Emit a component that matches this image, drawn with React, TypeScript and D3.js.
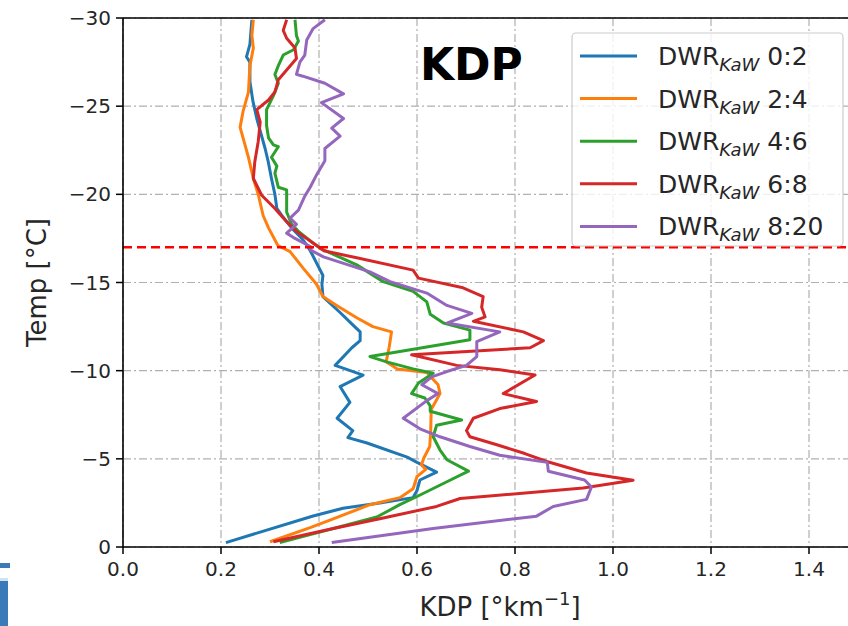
import React from "react";
import * as d3 from "d3";

// Each series: [Temp (°C), KDP (°/km)]
const s02: [number, number][] = [
  [-29.9, 0.263], [-28.5, 0.259], [-27.8, 0.252], [-27.5, 0.259], [-26.4, 0.259],
  [-25.3, 0.265], [-24.3, 0.273], [-23.6, 0.28], [-22.6, 0.29], [-21.9, 0.296],
  [-20.9, 0.303], [-20.0, 0.31], [-19.2, 0.314], [-18.7, 0.327], [-18.1, 0.344],
  [-17.5, 0.365], [-17.0, 0.378], [-16.6, 0.386], [-15.4, 0.408], [-14.9, 0.406],
  [-14.2, 0.408], [-13.3, 0.443], [-12.6, 0.469], [-12.2, 0.484], [-11.7, 0.484],
  [-11.3, 0.467], [-10.3, 0.433], [-9.75, 0.49], [-9.1, 0.443], [-8.2, 0.463],
  [-7.3, 0.437], [-6.6, 0.469], [-6.2, 0.459], [-5.9, 0.498], [-5.1, 0.58],
  [-4.8, 0.6], [-4.25, 0.64], [-3.8, 0.606], [-3.2, 0.6], [-2.8, 0.592],
  [-2.5, 0.524], [-2.2, 0.449], [-1.76, 0.388], [-0.25, 0.21],
];

const s24: [number, number][] = [
  [-29.9, 0.266], [-29.0, 0.263], [-28.3, 0.266], [-27.3, 0.259], [-25.8, 0.256],
  [-24.7, 0.245], [-23.8, 0.239], [-23.2, 0.245], [-22.1, 0.256], [-20.9, 0.266],
  [-20.0, 0.276], [-18.8, 0.286], [-18.1, 0.297], [-17.1, 0.316], [-16.75, 0.341],
  [-15.8, 0.368], [-14.9, 0.395], [-14.2, 0.408], [-13.7, 0.436], [-13.0, 0.477],
  [-12.5, 0.51], [-12.2, 0.548], [-11.3, 0.543], [-10.5, 0.537], [-10.1, 0.56],
  [-9.9, 0.62], [-9.2, 0.643], [-8.7, 0.647], [-7.8, 0.629], [-6.6, 0.628],
  [-5.7, 0.626], [-5.05, 0.614], [-4.65, 0.609], [-4.4, 0.618], [-4.0, 0.6],
  [-3.3, 0.592], [-2.8, 0.565], [-2.4, 0.504], [-1.6, 0.429], [-1.1, 0.382],
  [-0.3, 0.3],
];

const s46: [number, number][] = [
  [-29.9, 0.351], [-29.0, 0.354], [-28.7, 0.358], [-28.2, 0.348], [-27.9, 0.327],
  [-27.3, 0.317], [-26.8, 0.31], [-26.3, 0.317], [-25.6, 0.307], [-24.8, 0.293],
  [-23.9, 0.293], [-23.2, 0.297], [-22.8, 0.307], [-22.7, 0.317], [-22.1, 0.303],
  [-21.6, 0.314], [-21.2, 0.31], [-20.4, 0.317], [-20.25, 0.334], [-19.0, 0.334],
  [-18.3, 0.344], [-17.9, 0.358], [-17.3, 0.385], [-16.9, 0.405], [-16.0, 0.477],
  [-15.05, 0.531], [-14.5, 0.592], [-13.9, 0.62], [-13.2, 0.627], [-12.7, 0.654],
  [-12.3, 0.708], [-11.75, 0.708], [-10.8, 0.504], [-10.5, 0.538], [-10.1, 0.592],
  [-9.85, 0.633], [-9.3, 0.603], [-8.7, 0.589], [-8.45, 0.616], [-8.0, 0.627],
  [-7.7, 0.627], [-7.2, 0.691], [-6.9, 0.64], [-6.25, 0.633], [-5.5, 0.647],
  [-4.95, 0.661], [-4.3, 0.705], [-3.7, 0.661], [-2.85, 0.599], [-2.4, 0.565],
  [-1.7, 0.518], [-1.15, 0.443], [-0.7, 0.382], [-0.25, 0.32],
];

const s68: [number, number][] = [
  [-29.9, 0.334], [-29.3, 0.327], [-28.85, 0.334], [-28.3, 0.351], [-27.7, 0.354],
  [-27.05, 0.334], [-26.5, 0.317], [-25.8, 0.31], [-25.35, 0.297], [-24.8, 0.273],
  [-24.1, 0.28], [-23.0, 0.276], [-21.85, 0.269], [-20.9, 0.266], [-19.95, 0.283],
  [-19.2, 0.31], [-18.45, 0.334], [-17.9, 0.354], [-17.3, 0.385], [-16.8, 0.41],
  [-16.4, 0.477], [-15.7, 0.592], [-15.25, 0.603], [-14.7, 0.694], [-14.2, 0.735],
  [-13.6, 0.732], [-13.05, 0.739], [-12.8, 0.715], [-12.2, 0.817], [-11.7, 0.858],
  [-11.3, 0.831], [-10.9, 0.589], [-10.3, 0.681], [-10.05, 0.769], [-9.75, 0.841],
  [-8.7, 0.776], [-8.25, 0.844], [-7.85, 0.769], [-7.3, 0.715], [-6.6, 0.701],
  [-6.25, 0.708], [-5.8, 0.763], [-5.3, 0.82], [-4.85, 0.865], [-4.2, 0.946],
  [-3.78, 1.041], [-3.35, 0.939], [-2.75, 0.688], [-2.3, 0.64], [-1.6, 0.524],
  [-1.05, 0.429], [-0.3, 0.307],
];

const s820: [number, number][] = [
  [-29.9, 0.412], [-29.4, 0.388], [-28.75, 0.375], [-27.9, 0.371], [-27.5, 0.361],
  [-26.8, 0.354], [-26.7, 0.367], [-26.3, 0.412], [-25.7, 0.45], [-25.2, 0.405],
  [-24.3, 0.45], [-23.75, 0.426], [-23.3, 0.443], [-22.6, 0.412], [-21.9, 0.412],
  [-21.1, 0.395], [-20.4, 0.382], [-19.9, 0.371], [-19.1, 0.358], [-18.65, 0.341],
  [-18.3, 0.354], [-17.8, 0.334], [-17.5, 0.351], [-17.0, 0.385], [-16.85, 0.382],
  [-16.45, 0.409], [-15.6, 0.504], [-15.05, 0.545], [-14.4, 0.62], [-13.7, 0.661],
  [-13.25, 0.712], [-12.7, 0.661], [-12.2, 0.769], [-11.65, 0.722], [-10.8, 0.722],
  [-10.3, 0.701], [-9.95, 0.661], [-9.65, 0.63], [-9.2, 0.61], [-8.7, 0.643],
  [-8.3, 0.62], [-7.3, 0.572], [-6.7, 0.606], [-6.25, 0.647], [-5.7, 0.708],
  [-5.2, 0.769], [-4.8, 0.866], [-4.3, 0.868], [-3.8, 0.942], [-3.4, 0.956],
  [-2.7, 0.946], [-2.3, 0.878], [-1.75, 0.844], [-1.05, 0.633], [-0.25, 0.426],
];

const seriesLabels = ["0:2", "2:4", "4:6", "6:8", "8:20"];
const seriesColors = ["#1f77b4", "#ff7f0e", "#2ca02c", "#d62728", "#9467bd"];
const seriesData = [s02, s24, s46, s68, s820];

const xTicks = [0, 0.2, 0.4, 0.6, 0.8, 1.0, 1.2, 1.4];
const yTicks = [0, -5, -10, -15, -20, -25, -30];
const refTemp = -17;

const W = 848;
const H = 626;
const FONT = "DejaVu Sans, sans-serif";

export default function App() {
  const x = d3.scaleLinear().domain([0, 1.5]).range([123, 858]);
  const y = d3.scaleLinear().domain([0, -30]).range([547, 18]);
  const line = d3
    .line<[number, number]>()
    .x((d) => x(d[1]))
    .y((d) => y(d[0]));

  const left = x(0);
  const right = x(1.5);
  const top = y(-30);
  const bottom = y(0);

  const legX = 572;
  const legY = 33;
  const rowH = 42.6;

  return (
    <svg
      width={W}
      height={H}
      style={{ position: "absolute", left: 0, top: 0, background: "#fff" }}
      fontFamily={FONT}
    >
      <rect x={0} y={0} width={W} height={H} fill="#fff" />
      {/* grid */}
      <g stroke="#b0b0b0" strokeWidth={1.2} strokeDasharray="8,3,2,3">
        {xTicks.map((t) => (
          <line key={"gx" + t} x1={x(t)} x2={x(t)} y1={top} y2={bottom} />
        ))}
        {yTicks.map((t) => (
          <line key={"gy" + t} x1={left} x2={right} y1={y(t)} y2={y(t)} />
        ))}
      </g>
      {/* series */}
      {seriesData.map((s, i) => (
        <path
          key={i}
          d={line(s) || ""}
          fill="none"
          stroke={seriesColors[i]}
          strokeWidth={3}
          strokeLinejoin="round"
        />
      ))}
      {/* reference line */}
      <line
        x1={left}
        x2={right}
        y1={y(refTemp)}
        y2={y(refTemp)}
        stroke="#ff0000"
        strokeWidth={2.5}
        strokeDasharray="9,5"
      />
      {/* spines */}
      <g stroke="#000" strokeWidth={1.6} fill="none">
        <line x1={left} x2={left} y1={top} y2={bottom} />
        <line x1={left} x2={right} y1={bottom} y2={bottom} />
        <line x1={left} x2={right} y1={top} y2={top} />
      </g>
      {/* ticks */}
      <g stroke="#000" strokeWidth={1.5}>
        {xTicks.map((t) => (
          <line key={"tx" + t} x1={x(t)} x2={x(t)} y1={bottom} y2={bottom + 7} />
        ))}
        {yTicks.map((t) => (
          <line key={"ty" + t} x1={left - 7} x2={left} y1={y(t)} y2={y(t)} />
        ))}
      </g>
      <g fontSize={20} fill="#262626">
        {xTicks.map((t) => (
          <text key={"lx" + t} x={x(t)} y={bottom + 29} textAnchor="middle">
            {d3.format(".1f")(t)}
          </text>
        ))}
        {yTicks.map((t) => (
          <text key={"ly" + t} x={left - 12} y={y(t) + 7} textAnchor="end">
            {t < 0 ? "\u2212" + Math.abs(t) : String(t)}
          </text>
        ))}
      </g>
      {/* axis labels */}
      <text x={500} y={616} textAnchor="middle" fontSize={26} fill="#262626">
        KDP [°km
        <tspan dy={-11} fontSize={18}>
          −1
        </tspan>
        <tspan dy={11}>]</tspan>
      </text>
      <text
        transform={`translate(46,${(top + bottom) / 2}) rotate(-90)`}
        textAnchor="middle"
        fontSize={26}
        fill="#262626"
      >
        Temp [°C]
      </text>
      {/* title in plot */}
      <text x={420} y={80} fontSize={44} fontWeight="bold" fill="#000">
        KDP
      </text>
      {/* legend */}
      <rect
        x={legX}
        y={legY}
        width={271}
        height={213}
        rx={4}
        fill="#fff"
        fillOpacity={0.8}
        stroke="#cccccc"
        strokeWidth={1.2}
      />
      {seriesLabels.map((lab, i) => {
        const cy = legY + 23 + i * rowH;
        return (
          <g key={lab}>
            <line x1={580} x2={637} y1={cy} y2={cy} stroke={seriesColors[i]} strokeWidth={3} />
            <text x={658} y={cy + 9} fontSize={25} fill="#262626">
              DWR
              <tspan dy={6} fontSize={18} fontStyle="italic">
                KaW
              </tspan>
              <tspan dy={-6}> {lab}</tspan>
            </text>
          </g>
        );
      })}
      {/* cropped artifact on the left edge */}
      <rect x={0} y={563} width={10} height={5} fill="#3a7ab8" />
      <rect x={0} y={578} width={8} height={48} fill="#3a7ab8" />
      <rect x={0} y={578} width={8} height={3} fill="#cfe3f3" />
    </svg>
  );
}
